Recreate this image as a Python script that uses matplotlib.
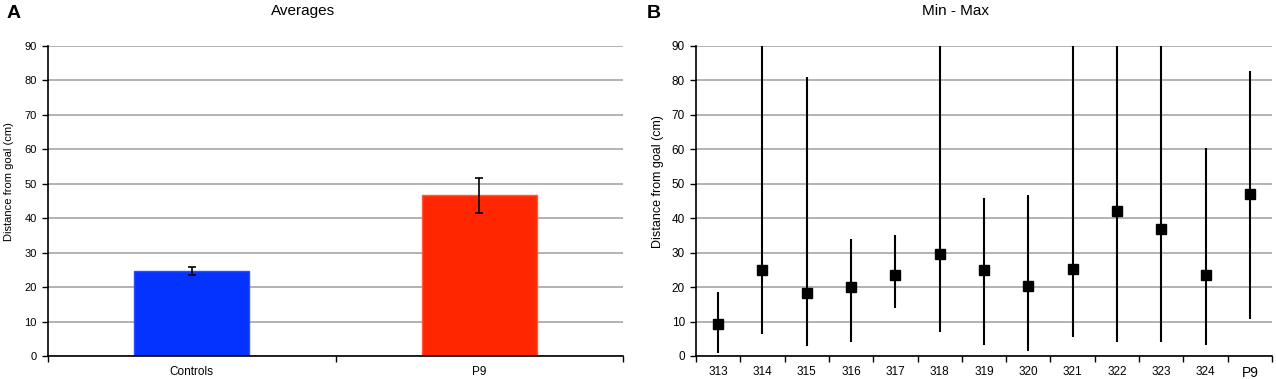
import matplotlib.pyplot as plt
import numpy as np

plt.rcParams['font.family'] = ['Liberation Sans', 'DejaVu Sans']

# panel A - averages
groups = ["Controls", "P9"]
avg = [24.7, 46.6]
avg_err = [1.1, 5.0]
bar_colors = ["#0433ff", "#ff2600"]

# panel B - min / mean / max per subject
subjects = ["313", "314", "315", "316", "317", "318", "319", "320", "321", "322", "323", "324", "P9"]
means = [9.3, 24.9, 18.3, 20.0, 23.6, 29.5, 24.9, 20.4, 25.2, 42.0, 36.8, 23.5, 46.9]
mins = [0.9, 6.3, 2.8, 4.2, 14.0, 7.0, 3.2, 1.4, 5.6, 4.2, 4.2, 3.2, 10.8]
maxs = [18.7, 90, 81.0, 34.0, 35.2, 90, 45.9, 46.6, 90, 90, 90, 60.5, 82.7]

W, H = 1276, 379
fig = plt.figure(figsize=(W / 100, H / 100), dpi=100)
axA = fig.add_axes([48 / W, 1 - 356 / H, 575 / W, 310 / H])
axB = fig.add_axes([696 / W, 1 - 356 / H, 576 / W, 310 / H])

grid_c = "#a6a6a6"

def style(ax, fs):
    ax.set_ylim(0, 90)
    ax.set_yticks(range(0, 91, 10))
    ax.yaxis.grid(True, color=grid_c, linewidth=1.2)
    ax.set_axisbelow(True)
    for s in ["top", "right"]:
        ax.spines[s].set_visible(False)
    ax.spines["left"].set_linewidth(1.2)
    ax.spines["bottom"].set_linewidth(1.2)
    ax.tick_params(axis="y", length=4, width=1, labelsize=fs, pad=4)
    ax.tick_params(axis="x", which="minor", length=4, width=1)
    ax.tick_params(axis="x", which="major", length=0, pad=7)

# A
x = np.arange(len(groups))
axA.bar(x, avg, width=0.4, color=bar_colors, edgecolor=["#2a4dff", "#ff5a40"], linewidth=1, zorder=2)
axA.errorbar(x, avg, yerr=avg_err, fmt="none", ecolor="black", elinewidth=1.2, capsize=3, capthick=1.2, zorder=3)
axA.set_xlim(-0.5, len(groups) - 0.5)
style(axA, 8)
axA.set_xticks(x)
axA.set_xticklabels(groups, fontsize=8.5)
axA.set_xticks(np.arange(-0.5, len(groups)), minor=True)
fig.text(303 / W, 1 - 11 / H, "Averages", fontsize=11, ha="center", va="center")
fig.text(7 / W, 1 - 14 / H, "A", fontsize=14, fontweight="bold", va="center", ha="left")
fig.text(9 / W, 1 - 182 / H, "Distance from goal (cm)", fontsize=8, rotation=90, ha="center", va="center")

# B
xb = np.arange(len(subjects))
m = np.array(means)
lo = m - np.array(mins)
hi = np.array(maxs) - m
axB.errorbar(xb, m, yerr=[lo, hi], fmt="s", color="black", markersize=6.5, elinewidth=1.5, capsize=0, zorder=3)
axB.set_xlim(-0.5, len(subjects) - 0.5)
style(axB, 8.5)
axB.set_xticks(xb)
axB.set_xticklabels(subjects, fontsize=8.5)
axB.get_xticklabels()[-1].set_fontsize(10)
axB.set_xticks(np.arange(-0.5, len(subjects)), minor=True)
fig.text(956 / W, 1 - 11 / H, "Min - Max", fontsize=11, ha="center", va="center")
fig.text(647 / W, 1 - 14 / H, "B", fontsize=14, fontweight="bold", va="center", ha="left")
fig.text(658 / W, 1 - 182 / H, "Distance from goal (cm)", fontsize=9, rotation=90, ha="center", va="center")

fig.savefig("out.png", dpi=100)
